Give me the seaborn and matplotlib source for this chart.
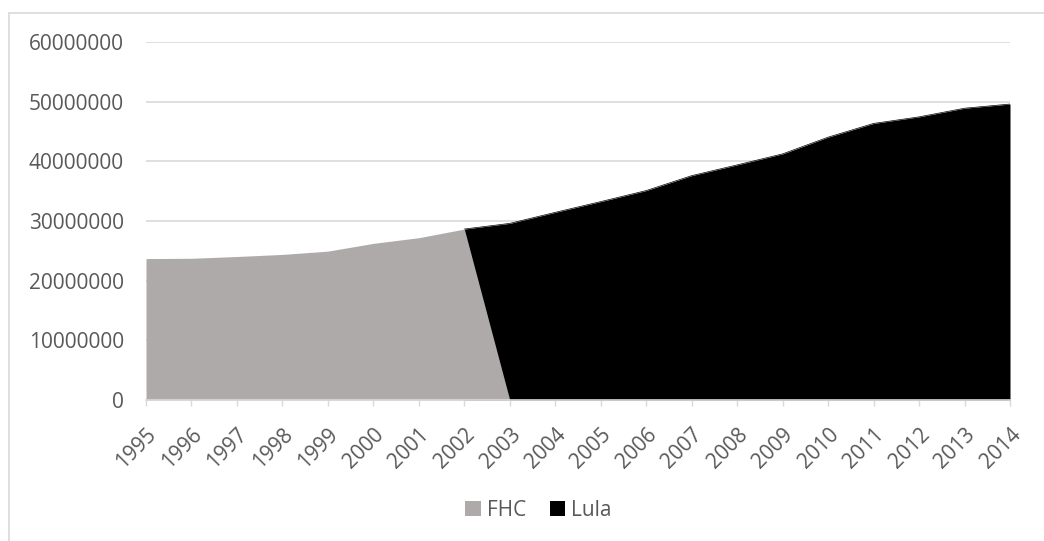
import matplotlib
matplotlib.use("Agg")
import matplotlib.pyplot as plt
from matplotlib.patches import Patch
from matplotlib.lines import Line2D
import seaborn as sns
import pandas as pd

# Data
fhc_years = [1995, 1996, 1997, 1998, 1999, 2000, 2001, 2002, 2003]
fhc_values = [23700000, 23750000, 24050000, 24400000, 24950000, 26250000, 27200000, 28650000, 0]
lula_years = [2002, 2003, 2004, 2005, 2006, 2007, 2008, 2009, 2010, 2011, 2012, 2013, 2014]
lula_values = [28650000, 29600000, 31450000, 33250000, 35100000, 37600000, 39400000, 41250000,
               44050000, 46350000, 47450000, 48900000, 49600000]
year_labels = [str(y) for y in range(1995, 2015)]
y_ticks = [0, 10000000, 20000000, 30000000, 40000000, 50000000, 60000000]
series_names = ["FHC", "Lula"]
series_colors = ["#aeaaaa", "#000000"]

sns.set_theme(style="white")
plt.rcParams["font.family"] = ["Open Sans", "DejaVu Sans"]

fhc = pd.DataFrame({"year": fhc_years, "value": fhc_values})
lula = pd.DataFrame({"year": lula_years, "value": lula_values})

fig = plt.figure(figsize=(10.44, 5.41), dpi=100)
ax = fig.add_axes([146 / 1044, 1 - 400 / 541, (1010 - 146) / 1044, (400 - 42) / 541])

text_color = "#595959"
grid_color = "#d9d9d9"

ax.fill_between(lula["year"], 0, lula["value"], color=series_colors[1], linewidth=0, zorder=2)
sns.lineplot(data=lula, x="year", y="value", ax=ax, color=series_colors[1], linewidth=0.5, zorder=2)
ax.fill_between(fhc["year"], 0, fhc["value"], color=series_colors[0], linewidth=0, zorder=3)

ax.set_xlim(1995, 2014)
ax.set_ylim(0, 60000000)
ax.set_yticks(y_ticks)
ax.set_yticklabels([str(v) for v in y_ticks])
ax.set_xticks(list(range(1995, 2015)))
ax.set_xticklabels(year_labels, rotation=45, ha="right", rotation_mode="anchor")
ax.set_xlabel("")
ax.set_ylabel("")

ax.yaxis.grid(True, color=grid_color, linewidth=1.2, zorder=0)
ax.set_axisbelow(True)
for s in ["top", "right", "left"]:
    ax.spines[s].set_visible(False)
ax.spines["bottom"].set_color(grid_color)
ax.spines["bottom"].set_linewidth(1.2)
ax.spines["bottom"].set_zorder(5)

ax.tick_params(axis="y", length=0, pad=16, labelsize=15, labelcolor=text_color)
ax.tick_params(axis="x", direction="out", length=4, width=1, color=grid_color, pad=13,
               labelsize=15, labelcolor=text_color, bottom=True)
for lbl in ax.get_xticklabels():
    lbl.set_x(lbl.get_position()[0])

handles = [Patch(facecolor=c, edgecolor="none", label=n) for n, c in zip(series_names, series_colors)]
fig.legend(handles=handles, loc="center", bbox_to_anchor=(0.516, 0.057), ncol=2, frameon=False,
           fontsize=15, labelcolor=text_color, handlelength=0.75, handleheight=0.75,
           handletextpad=0.3, columnspacing=1.1)

# chart area border (top and left visible)
fig.add_artist(Line2D([9 / 1044, 9 / 1044], [0, 1 - 13 / 541], transform=fig.transFigure,
                      color=grid_color, linewidth=1.2))
fig.add_artist(Line2D([9 / 1044, 1], [1 - 13 / 541, 1 - 13 / 541], transform=fig.transFigure,
                      color=grid_color, linewidth=1.2))

fig.savefig("out.png", dpi=100)
